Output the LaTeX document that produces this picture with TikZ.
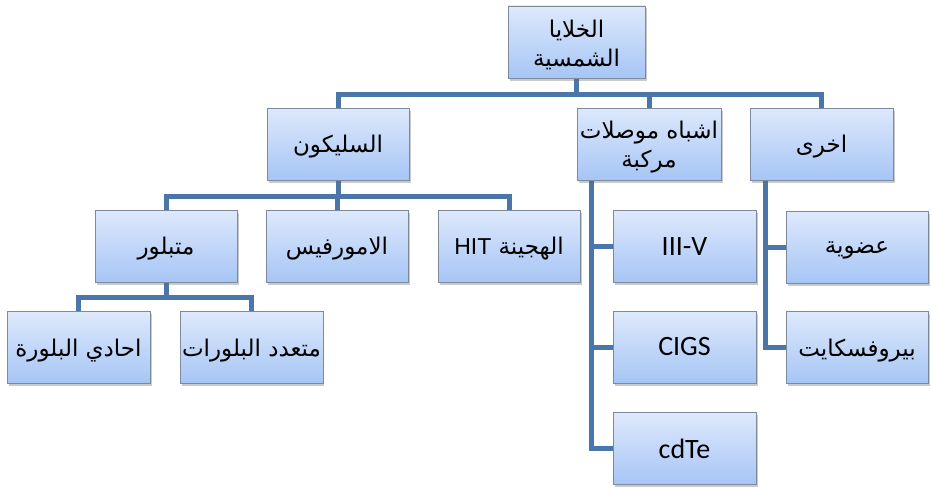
\documentclass[tikz,border=0pt]{standalone}
\usepackage{fontspec}
\setmainfont{Carlito}
\newfontfamily\arabicfont[Script=Arabic]{DejaVu Sans}
\newfontfamily\latinsans{Liberation Sans}
\TeXXeTstate=1
\usetikzlibrary{shadows,backgrounds,calc}
\definecolor{connc}{RGB}{74,118,170}
\definecolor{boxtop}{RGB}{222,233,252}
\definecolor{boxbot}{RGB}{166,197,245}
\definecolor{boxline}{RGB}{125,138,155}
\tikzset{
  box/.style={draw=boxline, line width=0.9pt, top color=boxtop, bottom color=boxbot,
    minimum width=142pt, minimum height=72pt, inner sep=2pt, align=center,
    drop shadow={shadow xshift=1.5pt, shadow yshift=-2.5pt, opacity=0.35, fill=black!60}},
  artext/.style={font=\arabicfont\fontsize{23}{29}\selectfont},
  latext/.style={font=\fontsize{28}{30}\selectfont},
  conn/.style={draw=connc, line width=5pt}
}
\newcommand{\ar}[1]{\raisebox{-3pt}[\height][\depth]{\beginR #1\endR}}
\begin{document}
\begin{tikzpicture}[x=1pt,y=-1pt]
\useasboundingbox (0,0) rectangle (931,487);
% level 0
\node[box, artext, minimum width=137pt] (root) at (576.5,42) {\ar{الخلايا}\\\ar{الشمسية}};
% level 1
\node[box, artext] (sil) at (338,144) {\ar{السليكون}};
\node[box, artext, minimum width=144pt] (comp) at (649,144) {\ar{اشباه موصلات}\\\ar{مركبة}};
\node[box, artext, minimum width=143pt] (other) at (821.5,144) {\ar{اخرى}};
% level 2 silicon
\node[box, artext] (cryst) at (166,246) {\ar{متبلور}};
\node[box, artext] (amor) at (337,246) {\ar{الامورفيس}};
\node[box, artext] (hit) at (509,246) {\ar{الهجينة \beginL{\latinsans HIT}\endL}};
% compound children
\node[box, latext, minimum width=143pt] (iiiv) at (684.5,246.5) {III-V};
\node[box, latext, minimum width=143pt] (cigs) at (684.5,347) {CIGS};
\node[box, latext, minimum width=143pt] (cdte) at (684.5,448.5) {cdTe};
% other children
\node[box, artext] (org) at (857,247) {\ar{عضوية}};
\node[box, artext] (perov) at (857,347.5) {\ar{بيروفسكايت}};
% crystalline children
\node[box, artext, minimum width=143pt] (mono) at (78.5,347.5) {\ar{احادي البلورة}};
\node[box, artext, minimum width=141pt] (poly) at (251.5,347.5) {\ar{متعدد البلورات}};
% bus coordinates
\coordinate (b1) at (0,94);
\coordinate (b2) at (0,196);
\coordinate (b3) at (0,297);
\coordinate (vc) at (591,180);
\coordinate (vo) at (765,180);
\begin{pgfonlayer}{background}
\draw[conn] (root.south) -- (root.south |- b1);
\draw[conn] (sil.north) |- (other.north |- b1) -- (other.north);
\draw[conn] (comp.north) -- (comp.north |- b1);
\draw[conn] (sil.south) -- (sil.south |- b2);
\draw[conn] (cryst.north) |- (hit.north |- b2) -- (hit.north);
\draw[conn] (amor.north) -- (amor.north |- b2);
\draw[conn] (cryst.south) -- (cryst.south |- b3);
\draw[conn] (mono.north) |- (poly.north |- b3) -- (poly.north);
\draw[conn] (vc) |- (cdte.west);
\draw[conn] (vc |- iiiv.west) -- (iiiv.west);
\draw[conn] (vc |- cigs.west) -- (cigs.west);
\draw[conn] (vo) |- (perov.west);
\draw[conn] (vo |- org.west) -- (org.west);
\end{pgfonlayer}
\end{tikzpicture}
\end{document}
